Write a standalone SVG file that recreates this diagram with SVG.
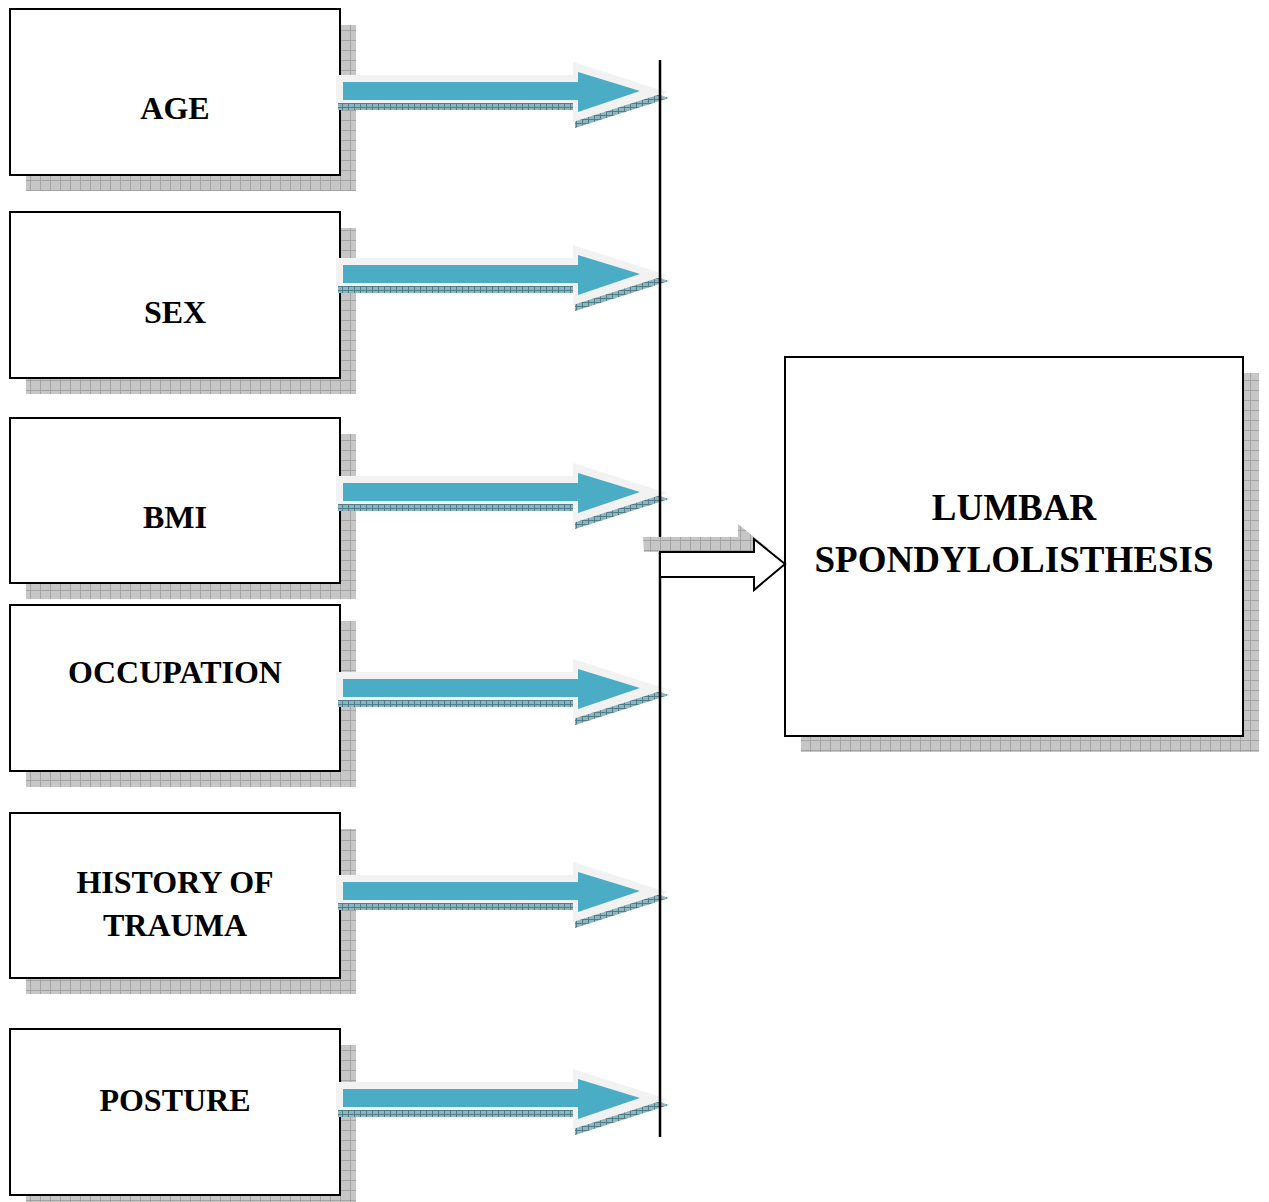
<svg xmlns="http://www.w3.org/2000/svg" width="1269" height="1202" viewBox="0 0 1269 1202">
<style>
.box{fill:#fff;stroke:#000;stroke-width:2}
.shadow{fill:url(#hatch)}
.lbl{font-family:"Liberation Serif","Times New Roman",serif;font-weight:bold;font-size:32px;text-anchor:middle;fill:#000}
.big{font-size:37px}
.ol{fill:#f2f2f2}
.teal{fill:#4bacc6}
.ash{fill:url(#thatch)}
</style>
<defs>
<pattern id="hatch" width="10" height="10" patternUnits="userSpaceOnUse">
<rect width="10" height="10" fill="#c6c6c6"/>
<path d="M0 0.5H10M0.5 0V10" stroke="#a4a4a4" stroke-width="1"/>
</pattern>
<pattern id="thatch" width="6" height="4" patternUnits="userSpaceOnUse">
<rect width="6" height="4" fill="#8fb4bd"/>
<path d="M0 0.5H6M0.5 0V4" stroke="#4f7f8a" stroke-width="1"/>
</pattern>
<g id="arr">
<polygon class="ash" points="338,-9 575,-9 575,-23 669,7 575,37 575,19 338,19"/>
<polygon class="ol" points="336,-16 573,-16 573,-29 667,1 573,31 573,12 336,12"/>
<polygon class="teal" points="343,-9 578,-9 578,-19 640,0 578,21 578,9 343,9"/>
</g>
</defs>
<rect width="1269" height="1202" fill="#fff"/>

<g id="age">
<rect class="shadow" x="26" y="25" width="330" height="166"/>
<rect class="box" x="10" y="9" width="330" height="166"/>
<text class="lbl" x="175" y="119">AGE</text>
</g>
<g id="sex">
<rect class="shadow" x="26" y="228" width="330" height="166"/>
<rect class="box" x="10" y="212" width="330" height="166"/>
<text class="lbl" x="175" y="323">SEX</text>
</g>
<g id="bmi">
<rect class="shadow" x="26" y="434" width="330" height="165"/>
<rect class="box" x="10" y="418" width="330" height="165"/>
<text class="lbl" x="175" y="528">BMI</text>
</g>
<g id="occupation">
<rect class="shadow" x="26" y="621" width="330" height="166"/>
<rect class="box" x="10" y="605" width="330" height="166"/>
<text class="lbl" x="175" y="683">OCCUPATION</text>
</g>
<g id="trauma">
<rect class="shadow" x="26" y="829" width="330" height="165"/>
<rect class="box" x="10" y="813" width="330" height="165"/>
<text class="lbl" x="175" y="893">HISTORY OF</text>
<text class="lbl" x="175" y="936">TRAUMA</text>
</g>
<g id="posture">
<rect class="shadow" x="26" y="1045" width="330" height="166"/>
<rect class="box" x="10" y="1029" width="330" height="166"/>
<text class="lbl" x="175" y="1111">POSTURE</text>
</g>
<g id="lumbar">
<rect class="shadow" x="801" y="373" width="458" height="379"/>
<rect class="box" x="785" y="357" width="458" height="379"/>
<text class="lbl big" x="1014" y="520">LUMBAR</text>
<text class="lbl big" x="1014" y="572">SPONDYLOLISTHESIS</text>
</g>

<g id="connectors">
<use href="#arr" transform="translate(0,91)"/>
<use href="#arr" transform="translate(0,274)"/>
<use href="#arr" transform="translate(0,492)"/>
<use href="#arr" transform="translate(0,688)"/>
<use href="#arr" transform="translate(0,891)"/>
<use href="#arr" transform="translate(0,1098)"/>
<line x1="660" y1="60" x2="660" y2="1137" stroke="#000" stroke-width="2.5"/>
<polygon class="shadow" points="643,537 738,537 738,524 769,549 754,552 644,552"/>
<polygon fill="#fff" stroke="#000" stroke-width="2" points="660,552 754,552 754,539 785,564 754,590 754,577 660,577"/>
</g>
</svg>
